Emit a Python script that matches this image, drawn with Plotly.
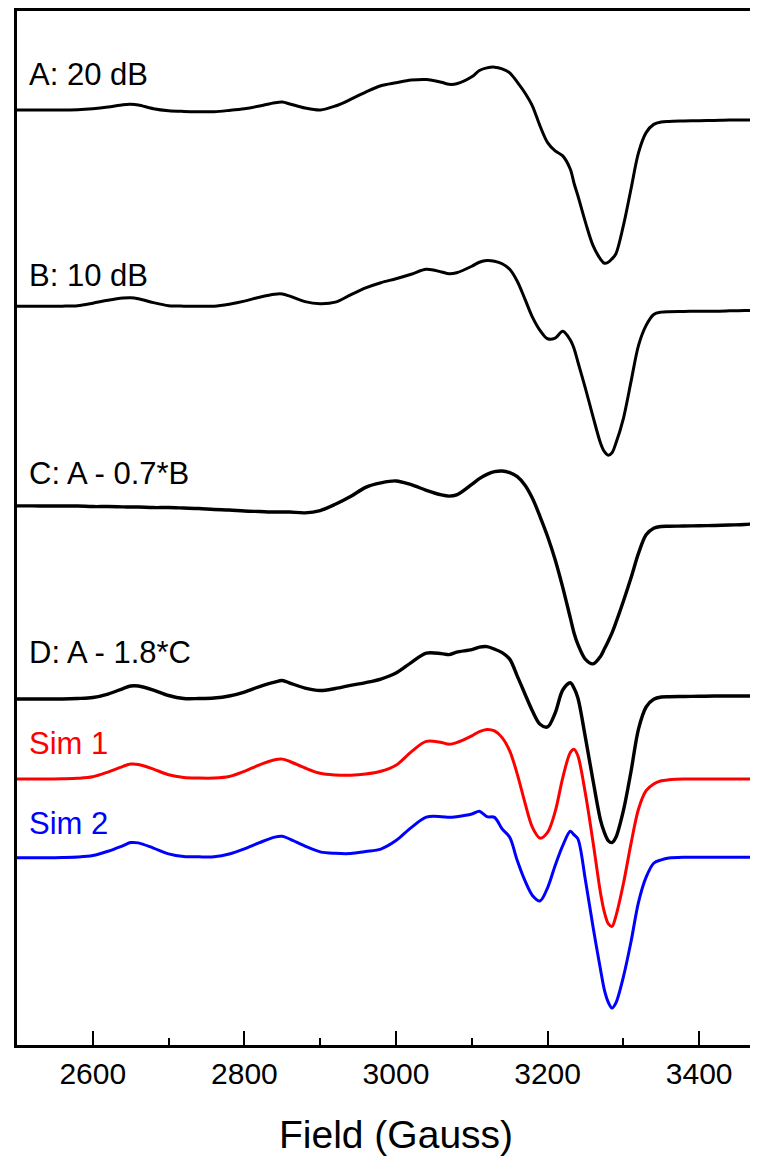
import plotly.graph_objects as go

# Magnetic field grid (Gauss)
field = [2500, 2520, 2540, 2560, 2580, 2600, 2620, 2640, 2650, 2660, 2680, 2700, 2720, 2740,
         2760, 2780, 2800, 2820, 2840, 2850, 2860, 2880, 2900, 2920, 2940, 2960, 2980, 3000,
         3020, 3040, 3060, 3070, 3080, 3100, 3110, 3120, 3130, 3140, 3150, 3160, 3170, 3180,
         3190, 3200, 3210, 3220, 3230, 3235, 3240, 3250, 3260, 3270, 3275, 3280, 3285, 3290,
         3300, 3310, 3320, 3330, 3340, 3350, 3360, 3380, 3400, 3420, 3440, 3460, 3480]

# EPR derivative signals (arbitrary units, relative to each trace's baseline)
spec_A = [0, 0, 0, 0.1, 0.3, 1.3, 3, 5.3, 5.7, 5, 1.3, -0.7, -1.4, -1.7, -1.7, -0.4, 1.3, 4, 7.3,
          8, 6.1, 2, 0, 4, 10.6, 18, 24.3, 27.3, 30, 30.6, 27.8, 25.8, 26.3, 33.3, 39.6, 42.3, 43,
          41.3, 37.3, 28, 17.3, 4, -16, -32.7, -41, -46, -59.4, -73.7, -86, -112.7, -136, -149.7,
          -153.7, -152.7, -149.2, -144.4, -116, -79.4, -42.7, -22.7, -14.4, -12, -11.4, -11,
          -10.7, -10.4, -10, -10, -10]
spec_B = [0, 0, 0, 0, 0.5, 3, 6, 8.2, 8.5, 7.5, 3.5, 0.5, 0, 0, 0, 2, 5, 9, 12, 12.2, 10, 4.5,
          2.5, 4, 11.3, 18.3, 23.5, 27.5, 32, 37, 34.3, 32.5, 33.5, 40, 44, 45.7, 45, 42.5, 37,
          25, 7.3, -11, -24.3, -32.7, -32, -25.3, -34, -42.7, -56, -82.7, -111, -137.7, -146,
          -149.5, -147, -137.7, -112.7, -76, -39.3, -19.3, -8.3, -6, -5.5, -5.3, -5, -5, -4.7,
          -4.3, -4.3]
spec_C = [0, 0, -0.2, -0.2, -0.2, -0.7, -0.7, -1, -1.2, -1.2, -1.7, -1.7, -2.2, -2.7, -3.7,
          -4.2, -5.2, -5.7, -6.2, -6.2, -6.2, -7, -4.7, 1.6, 9.3, 18.6, 23, 25, 21.3, 15.6, 11,
          9.8, 11, 21.6, 27.3, 31.6, 34.3, 35, 33.3, 29.3, 21, 7.6, -10.7, -30.7, -54, -81.7,
          -112.4, -127.7, -139, -154, -158.4, -150.7, -143.4, -135.7, -127.4, -117.4, -95.7,
          -72.4, -47.4, -29, -22.4, -20.7, -20.5, -20.2, -19.9, -19.7, -19.2, -18.7, -17.4]
spec_D = [0, 0, 0, 0, 0.5, 1.5, 5, 10.5, 13, 13, 9, 3.5, 0.5, 0.5, 1, 3, 7, 12.5, 17, 18.5, 16,
          11, 8.5, 10.5, 13.7, 16.5, 20, 26, 36.5, 46, 45.5, 44.5, 47, 49.5, 52, 52.5, 50, 46.5,
          40, 23, 5.3, -12, -25.3, -28, -14, 9, 16.3, 10.7, 1, -39, -82, -122, -134, -142, -144,
          -139, -112, -73, -30, -8, -0.3, 2, 2.3, 2.5, 2.7, 3, 3, 3, 3]
sim_1 = [0, 0, 0, 0.3, 0.8, 2.3, 7, 12.8, 15, 14.6, 10, 4.3, 1.6, 1, 1, 2.5, 7.8, 14.3, 19.3,
         20, 17.6, 11.1, 5.8, 4.1, 3.8, 5, 7.8, 13.8, 27.3, 37.8, 36.6, 35, 36.6, 43.3, 47.6,
         49.8, 48.3, 41.6, 28.3, 5, -23.4, -48.4, -59.2, -53.4, -32.7, 1.3, 26.6, 29.8, 23.3,
         -15, -63.4, -115, -133.7, -145, -147.7, -137.7, -105, -65, -30, -11.7, -5, -1.7, -0.7,
         0, 0, 0, 0, 0, 0]
sim_2 = [0, 0, 0.1, 0.3, 0.8, 2.3, 6.6, 12.3, 15.3, 15, 9.8, 4, 1.3, 1, 1.1, 3.8, 9, 15.3, 20.8,
         21.6, 18.8, 11.8, 6, 4.5, 4.3, 6.3, 8.8, 17.3, 30.3, 40.8, 41.3, 40.6, 41.3, 44, 46.8,
         41.3, 40.6, 29, 20.6, -2.7, -22.7, -37.7, -43.2, -30, -7.7, 12.3, 26.6, 23, 19, -22.7,
         -69.4, -112.7, -132.7, -144.7, -150.7, -145.7, -119.4, -84.4, -44.4, -19.4, -5.4, -2,
         -0.2, 0.6, 0.6, 0.6, 0.6, 0.6, 0.6]

labels = ["A: 20 dB", "B: 10 dB", "C: A - 0.7*B", "D: A - 1.8*C", "Sim 1", "Sim 2"]
series = [spec_A, spec_B, spec_C, spec_D, sim_1, sim_2]
offsets = [937.7, 741, 540.7, 347, 266.7, 187.7]
label_y = [973.3, 772, 573, 393.8, 302.2, 222.2]
colors = ["#000000", "#000000", "#000000", "#000000", "#FF0000", "#0000FF"]
widths = [3.0, 3.0, 3.4, 3.4, 3.0, 3.0]

x_ticks = [2600, 2800, 3000, 3200, 3400]

FONT = "Liberation Sans, Arial, Helvetica, sans-serif"

fig = go.Figure()
for name, vals, off, col, w in zip(labels, series, offsets, colors, widths):
    assert len(vals) == len(field), (name, len(vals))
    fig.add_trace(go.Scatter(
        x=field, y=[off + v for v in vals], mode="lines", name=name,
        line=dict(color=col, width=w, shape="spline", smoothing=0.9),
        hoverinfo="skip", showlegend=False))

for name, yy, col in zip(labels, label_y, colors):
    fig.add_annotation(x=2513, y=yy, xref="x", yref="y", text=name, showarrow=False,
                       xanchor="left", yanchor="middle",
                       font=dict(family=FONT, size=31, color=col))

fig.add_annotation(x=3000, y=-0.087, xref="x", yref="paper", text="Field (Gauss)",
                   showarrow=False, xanchor="center", yanchor="middle",
                   font=dict(family=FONT, size=39, color="#000000"))

fig.update_layout(
    width=750, height=1150,
    margin=dict(l=9, r=0, t=0, b=113),
    paper_bgcolor="white", plot_bgcolor="white",
    font=dict(family=FONT, color="#000000"),
    hovermode=False,
)
fig.update_xaxes(
    range=[2500, 3477.6], showgrid=False, zeroline=False,
    showline=True, linecolor="#000000", linewidth=2.8, mirror=True,
    ticks="inside", ticklen=14, tickwidth=2.4, tickcolor="#000000",
    tickvals=x_ticks, ticktext=[str(t) for t in x_ticks],
    tickfont=dict(family=FONT, size=30, color="#000000"),
    minor=dict(tickvals=[2700, 2900, 3100, 3300], ticks="inside", ticklen=7,
               tickwidth=2.4, tickcolor="#000000", showgrid=False),
)
fig.update_yaxes(
    range=[0, 1037], showgrid=False, zeroline=False,
    showline=True, linecolor="#000000", linewidth=2.8, mirror=False,
    ticks="", showticklabels=False,
)

fig.write_html("out.html", config={"displayModeBar": False})
